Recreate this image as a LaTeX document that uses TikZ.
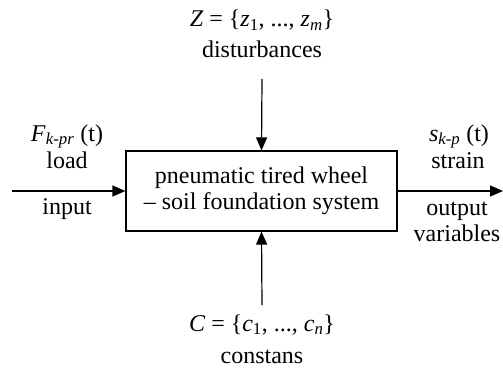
\documentclass[tikz,border=0pt]{standalone}
\usepackage{fontspec}
\setmainfont{Liberation Serif}
\usetikzlibrary{arrows.meta}
\tikzset{>={Triangle[length=13pt,width=11pt]}}
\begin{document}
\begin{tikzpicture}[x=1pt,y=-1pt,line width=1.2pt,
  font=\fontsize{24}{26}\selectfont]
\useasboundingbox (0,0) rectangle (503,369);
\node[draw,minimum width=271pt,minimum height=80pt,align=center] (sys)
  at (261.5,191) {pneumatic tired wheel\\-- soil foundation system};
% disturbances
\node[anchor=base] (zset) at (262,27)
  {\textit{Z} = \{\textit{z}\textsubscript{1}, ..., \textit{z}\textsubscript{\textit{m}}\}};
\node[anchor=base] (dist) at (262,57) {disturbances};
\coordinate (ztop) at (262,79);
\draw[->] (ztop) -- (sys.north);
% constants
\coordinate (cbot) at (262,305);
\draw[->] (cbot) -- (sys.south);
\node[anchor=base] (cset) at (262,331)
  {\textit{C} = \{\textit{c}\textsubscript{1}, ..., \textit{c}\textsubscript{\textit{n}}\}};
\node[anchor=base] (const) at (262,363) {constans};
% input
\coordinate (fin) at (12,191);
\draw[->] (fin) -- (sys.west);
\node[anchor=base] (fload) at (67,141) {\textit{F}\textsubscript{\textit{k-pr}} (t)};
\node[anchor=base] (load) at (67,168) {load};
\node[anchor=base] (input) at (67,214) {input};
% output
\coordinate (sout) at (503,191);
\draw[->] (sys.east) -- (sout);
\node[anchor=base] (sstr) at (459,141) {\textit{s}\textsubscript{\textit{k-p}} (t)};
\node[anchor=base] (strain) at (458,168) {strain};
\node[anchor=base] (outp) at (457,215) {output};
\node[anchor=base] (vars) at (457,241) {variables};
\end{tikzpicture}
\end{document}
